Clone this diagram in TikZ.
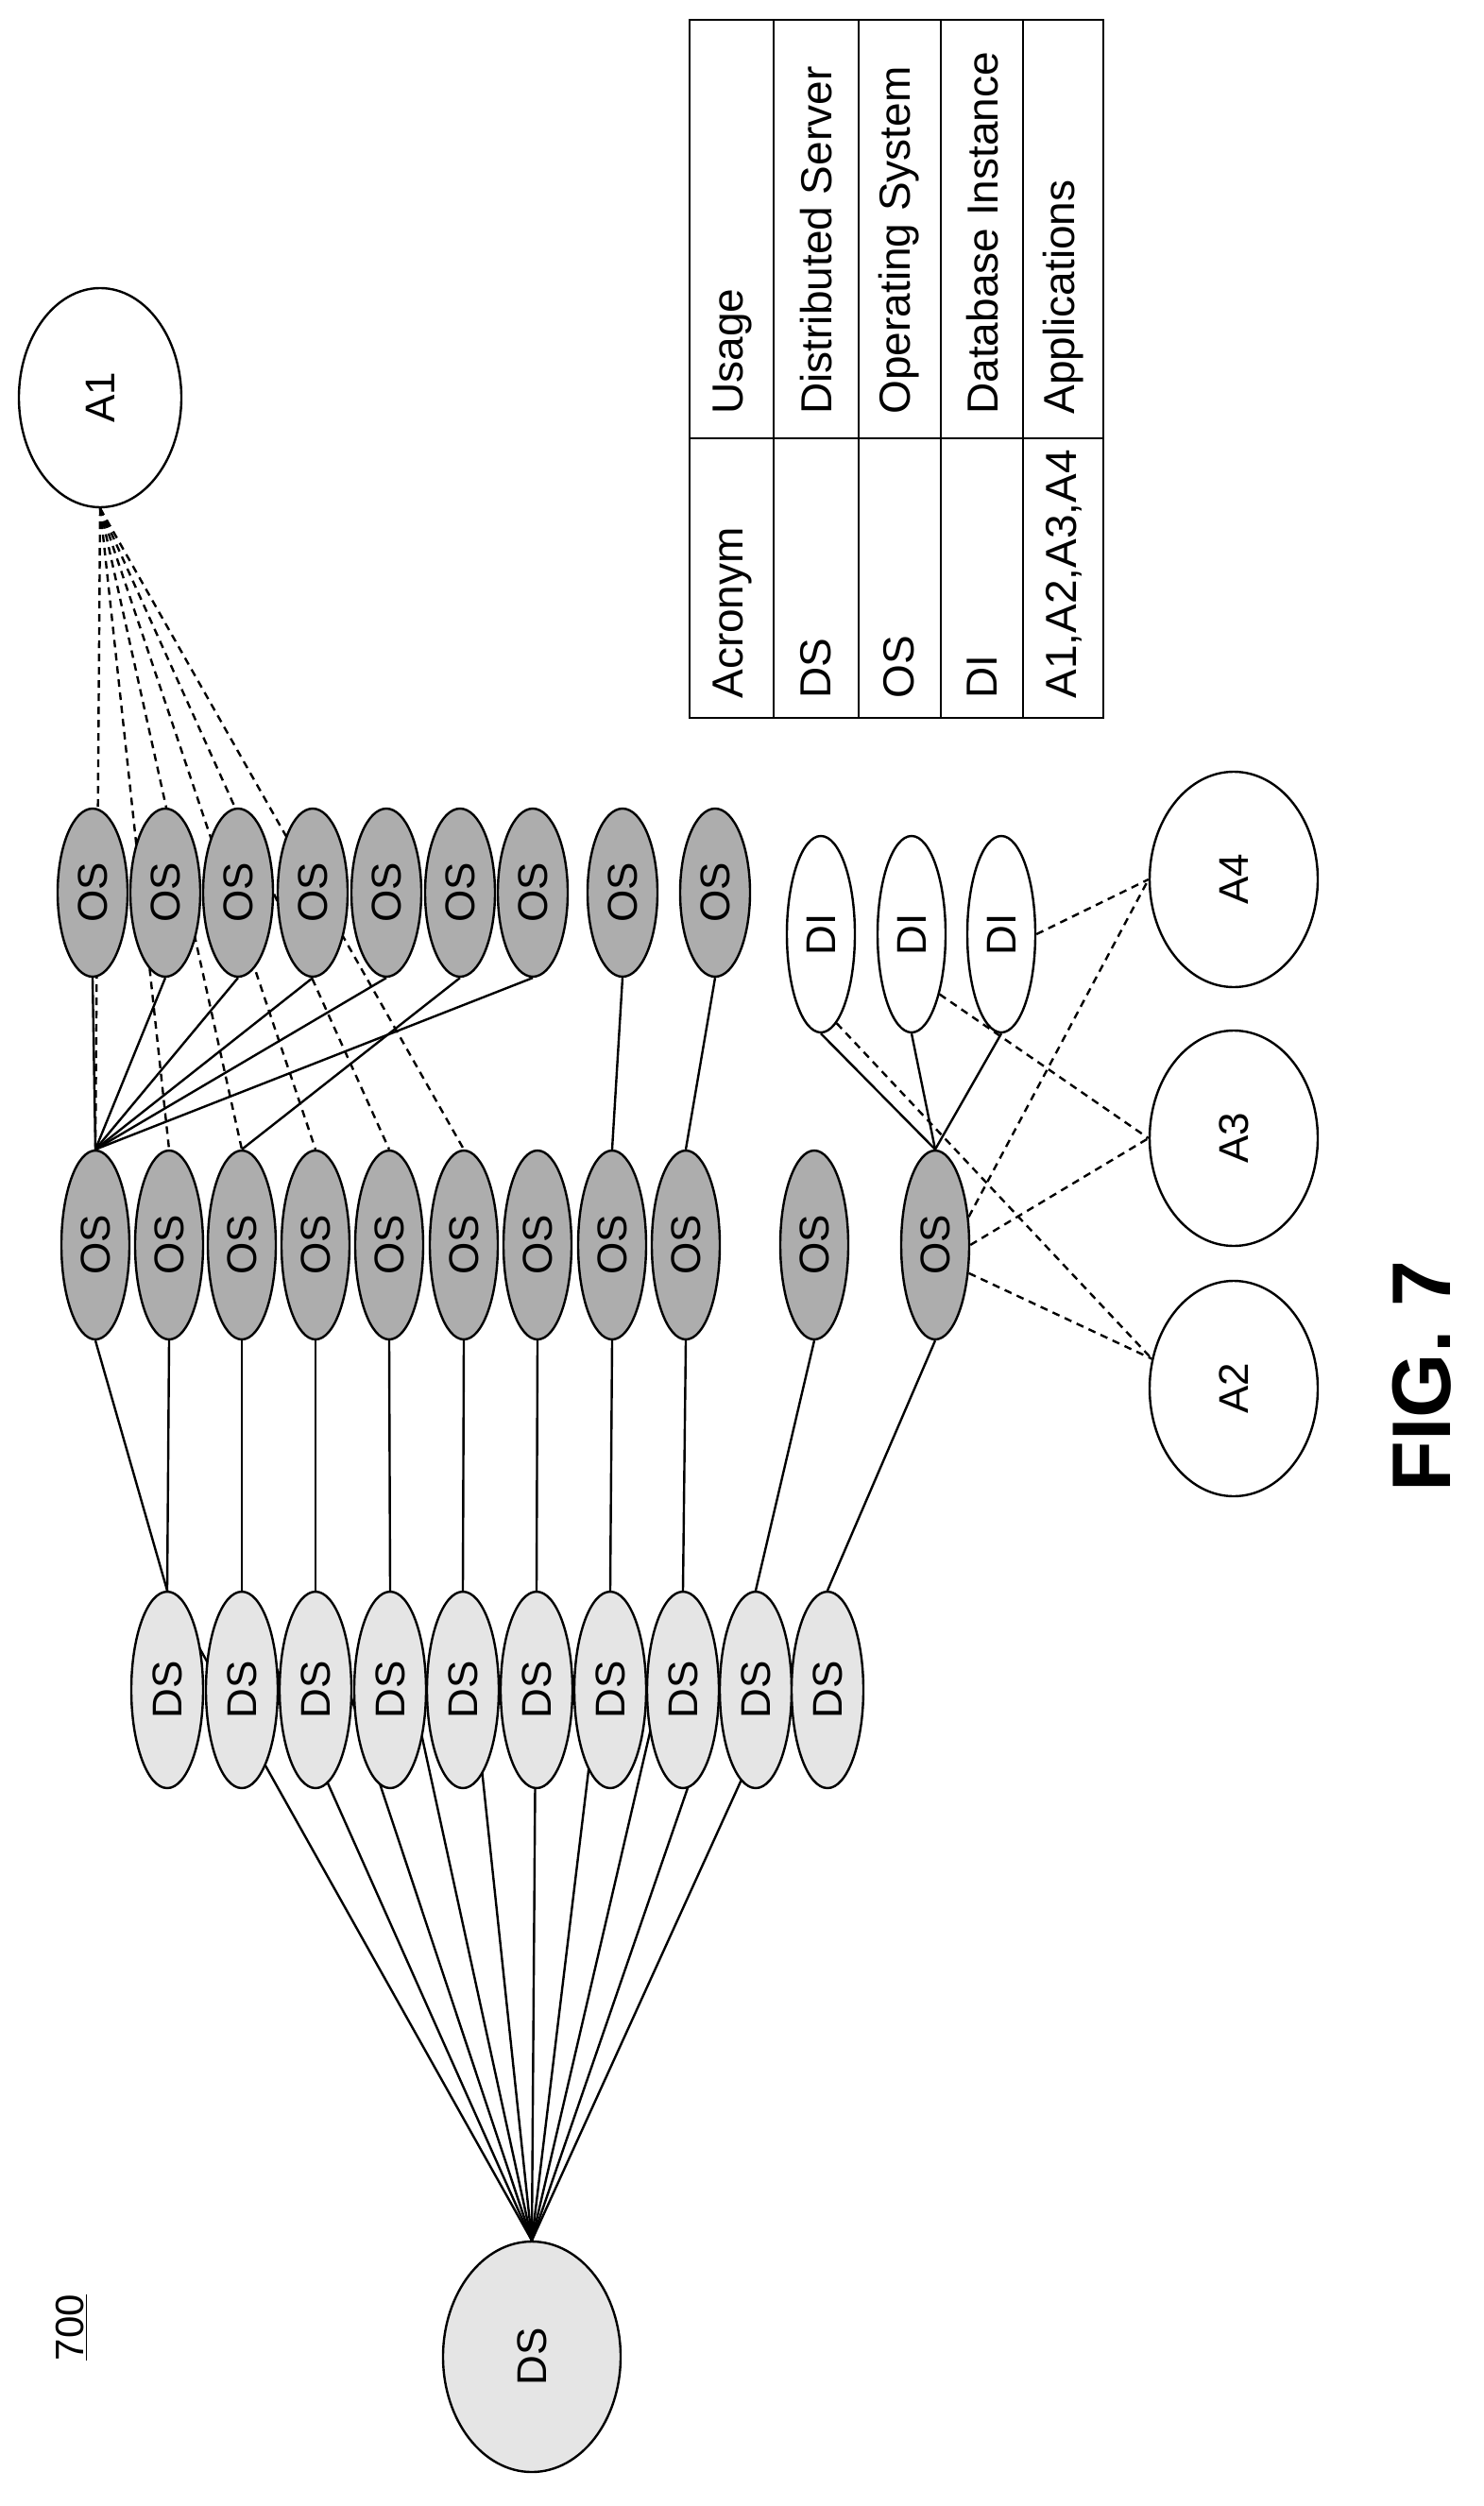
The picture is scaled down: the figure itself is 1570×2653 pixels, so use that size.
\documentclass[tikz,border=0pt]{standalone}
\usepackage{fontspec}
\setmainfont{Liberation Sans}
\usetikzlibrary{shapes.geometric,backgrounds}
\begin{document}
\begin{tikzpicture}[x=0.5pt,y=-0.5pt,
  el/.style={ellipse,draw,line width=1.2pt,inner sep=0pt,font=\fontsize{22}{26}\selectfont},
  ds/.style={el,fill=black!10,minimum width=38pt,minimum height=104pt},
  os/.style={el,fill=black!32,minimum width=36pt,minimum height=100pt},
  uos/.style={el,fill=black!32,minimum width=37pt,minimum height=89pt},
  di/.style={el,fill=white,minimum width=36pt,minimum height=104pt},
  app/.style={el,fill=white,minimum width=89pt,minimum height=114pt},
  sl/.style={line width=1.2pt},
  dl/.style={line width=1.2pt,dash pattern=on 4pt off 3pt},
  tt/.style={rotate=90,anchor=west,font=\fontsize{23}{26}\selectfont,inner sep=0pt}]
\useasboundingbox (0,0) rectangle (1570,2653);
% nodes
\node[el,fill=black!10,minimum width=94pt,minimum height=122pt] (big) at (563,2495) {\rotatebox{90}{DS}};
\foreach \i/\x in {1/177,2/256,3/334,4/413,5/490,6/568,7/646,8/723,9/800,10/876}
  \node[ds] (ds\i) at (\x,1789) {\rotatebox{90}{DS}};
\foreach \i/\x in {1/101,2/179,3/256,4/334,5/412,6/491,7/569,8/648,9/726,10/862,11/990}
  \node[os] (los\i) at (\x,1318) {\rotatebox{90}{OS}};
\foreach \i/\x in {1/98,2/175,3/252,4/331,5/409,6/487,7/564,8/659,9/757}
  \node[uos] (uos\i) at (\x,945) {\rotatebox{90}{OS}};
\node[el,fill=white,minimum width=86pt,minimum height=116pt] (a1) at (106,421) {\rotatebox{90}{A1}};
\foreach \i/\x in {1/869,2/965,3/1060}
  \node[di] (di\i) at (\x,989) {\rotatebox{90}{DI}};
\node[app] (a4) at (1306,931) {\rotatebox{90}{A4}};
\node[app] (a3) at (1306,1205) {\rotatebox{90}{A3}};
\node[app] (a2) at (1306,1470) {\rotatebox{90}{A2}};
% edges
\begin{scope}[on background layer]
\foreach \i in {1,...,10} \draw[sl] (big.north) -- (ds\i.north);
\foreach \o/\d in {1/1,2/1,3/2,4/3,5/4,6/5,7/6,8/7,9/8,10/9,11/10}
  \draw[sl] (los\o.south) -- (ds\d.north);
\foreach \u in {1,2,3,4,5,7} \draw[sl] (los1.north) -- (uos\u.south);
\draw[sl] (los3.north) -- (uos6.south);
\draw[sl] (los8.north) -- (uos8.south);
\draw[sl] (los9.north) -- (uos9.south);
\foreach \i in {1,...,6} \draw[dl] (a1.south) -- (los\i.north);
\foreach \i in {1,2,3} \draw[sl] (los11.north) -- (di\i.south);
\draw[dl] (di1.-80) -- (a2.160);
\draw[dl] (di2.-65) -- (a3.west);
\draw[dl] (di3.east) -- (a4.west);
\draw[dl] (los11.east) -- (a3.west);
\draw[dl] (los11.40) -- (a4.west);
\draw[dl] (los11.-40) -- (a2.160);
\end{scope}
% table
\draw[line width=1.2pt] (730,21) rectangle (1168,760);
\foreach \x in {819,909,996,1083} \draw[line width=1.2pt] (\x,21) -- (\x,760);
\draw[line width=1.2pt] (730,464) -- (1168,464);
\foreach \c/\a/\u in {775/Acronym/Usage,864/DS/Distributed Server,952/OS/Operating System,1040/DI/Database Instance,1126/{A1,A2,A3,A4}/Applications}{
  \node[tt] (ta\c) at (\c,740) {\a};
  \node[tt] (tu\c) at (\c,439) {\u};}
% labels
\node[rotate=90,font=\bfseries\fontsize{44}{50}\selectfont,inner sep=0pt] (fig) at (1505,1457) {FIG. 7};
\node[rotate=90,font=\fontsize{21}{24}\selectfont,inner sep=1pt] (lbl) at (76,2464) {\underline{700}};
\end{tikzpicture}
\end{document}
